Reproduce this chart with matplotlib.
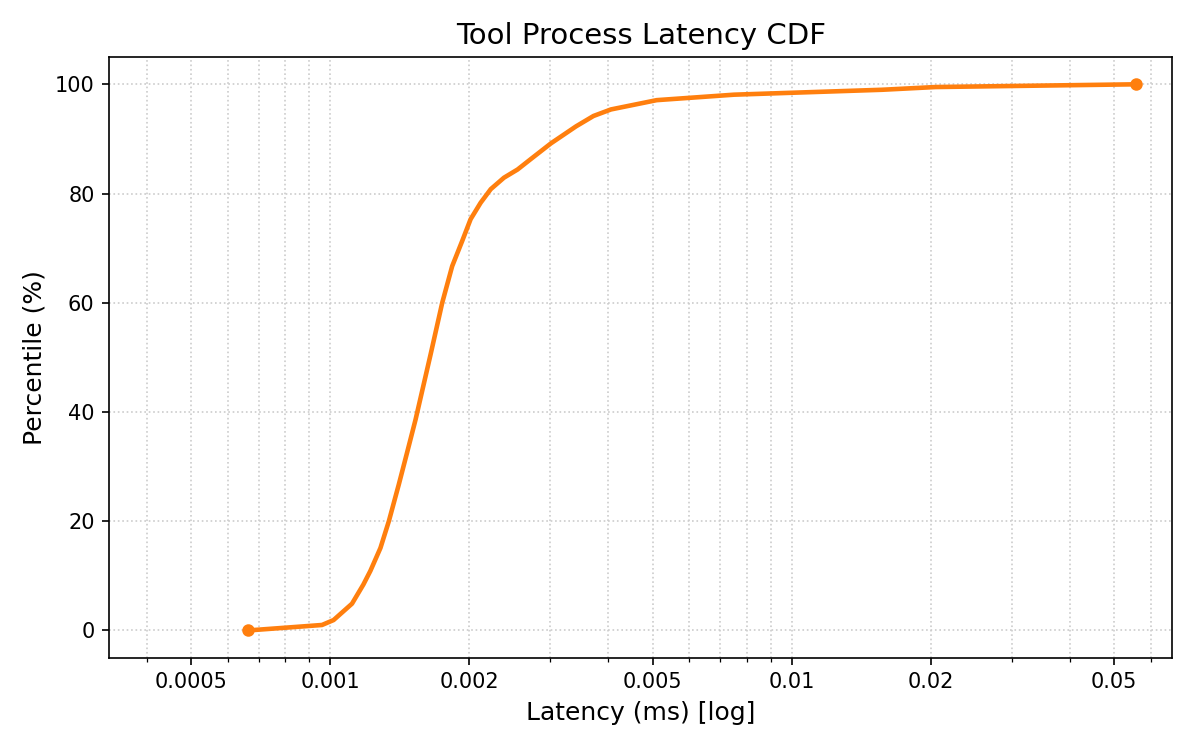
import numpy as np
import matplotlib
matplotlib.use("Agg")
import matplotlib.pyplot as plt
from matplotlib.ticker import FixedLocator, FuncFormatter, NullFormatter

# latency percentiles (ms)
latency_ms = [0.000664, 0.00086, 0.00096, 0.001017, 0.001115, 0.00118, 0.001222,
              0.001285, 0.00134, 0.001408, 0.001467, 0.001531, 0.00165, 0.001749,
              0.001838, 0.001932, 0.002015, 0.002118, 0.002228, 0.00238, 0.002547,
              0.00272, 0.00301, 0.00341, 0.00372, 0.00406, 0.0051, 0.0075,
              0.0157, 0.0205, 0.0557]
percentile = [0, 0.7, 1.0, 1.9, 4.9, 8.4, 10.9, 15.1, 20, 26.7, 32.5, 38.6, 50.5,
              60, 66.7, 71.3, 75.3, 78.3, 80.8, 82.9, 84.4, 86.3, 89.2, 92.3,
              94.2, 95.4, 97.1, 98.1, 99.0, 99.5, 100]

major_ticks = [0.0005, 0.001, 0.002, 0.005, 0.01, 0.02, 0.05]

fig, ax = plt.subplots(figsize=(8, 5), dpi=150)
ax.plot(latency_ms, percentile, color="#ff7f0e", linewidth=2.2,
        marker="o", markersize=5, markevery=[0, len(latency_ms) - 1])

ax.set_xscale("log")
ax.set_xlim(min(latency_ms) * 0.5, max(latency_ms) * 1.2)

minor = [m * 10.0 ** e for e in range(-4, -1) for m in range(1, 10)]
minor = [v for v in minor if not any(np.isclose(v, t) for t in major_ticks)]
ax.xaxis.set_major_locator(FixedLocator(major_ticks))
ax.xaxis.set_minor_locator(FixedLocator(minor))
ax.xaxis.set_major_formatter(FuncFormatter(lambda v, p: f"{v:g}"))
ax.xaxis.set_minor_formatter(NullFormatter())
ax.set_yticks([0, 20, 40, 60, 80, 100])

ax.grid(True, which="both", axis="x", linestyle=":", color="#cccccc", linewidth=0.8)
ax.grid(True, which="major", axis="y", linestyle=":", color="#cccccc", linewidth=0.8)
ax.set_axisbelow(True)

ax.set_title("Tool Process Latency CDF", fontsize=14)
ax.set_xlabel("Latency (ms) [log]", fontsize=12)
ax.set_ylabel("Percentile (%)", fontsize=12)

fig.subplots_adjust(left=0.091, right=0.977, top=0.924, bottom=0.123)
fig.savefig("out.png")
